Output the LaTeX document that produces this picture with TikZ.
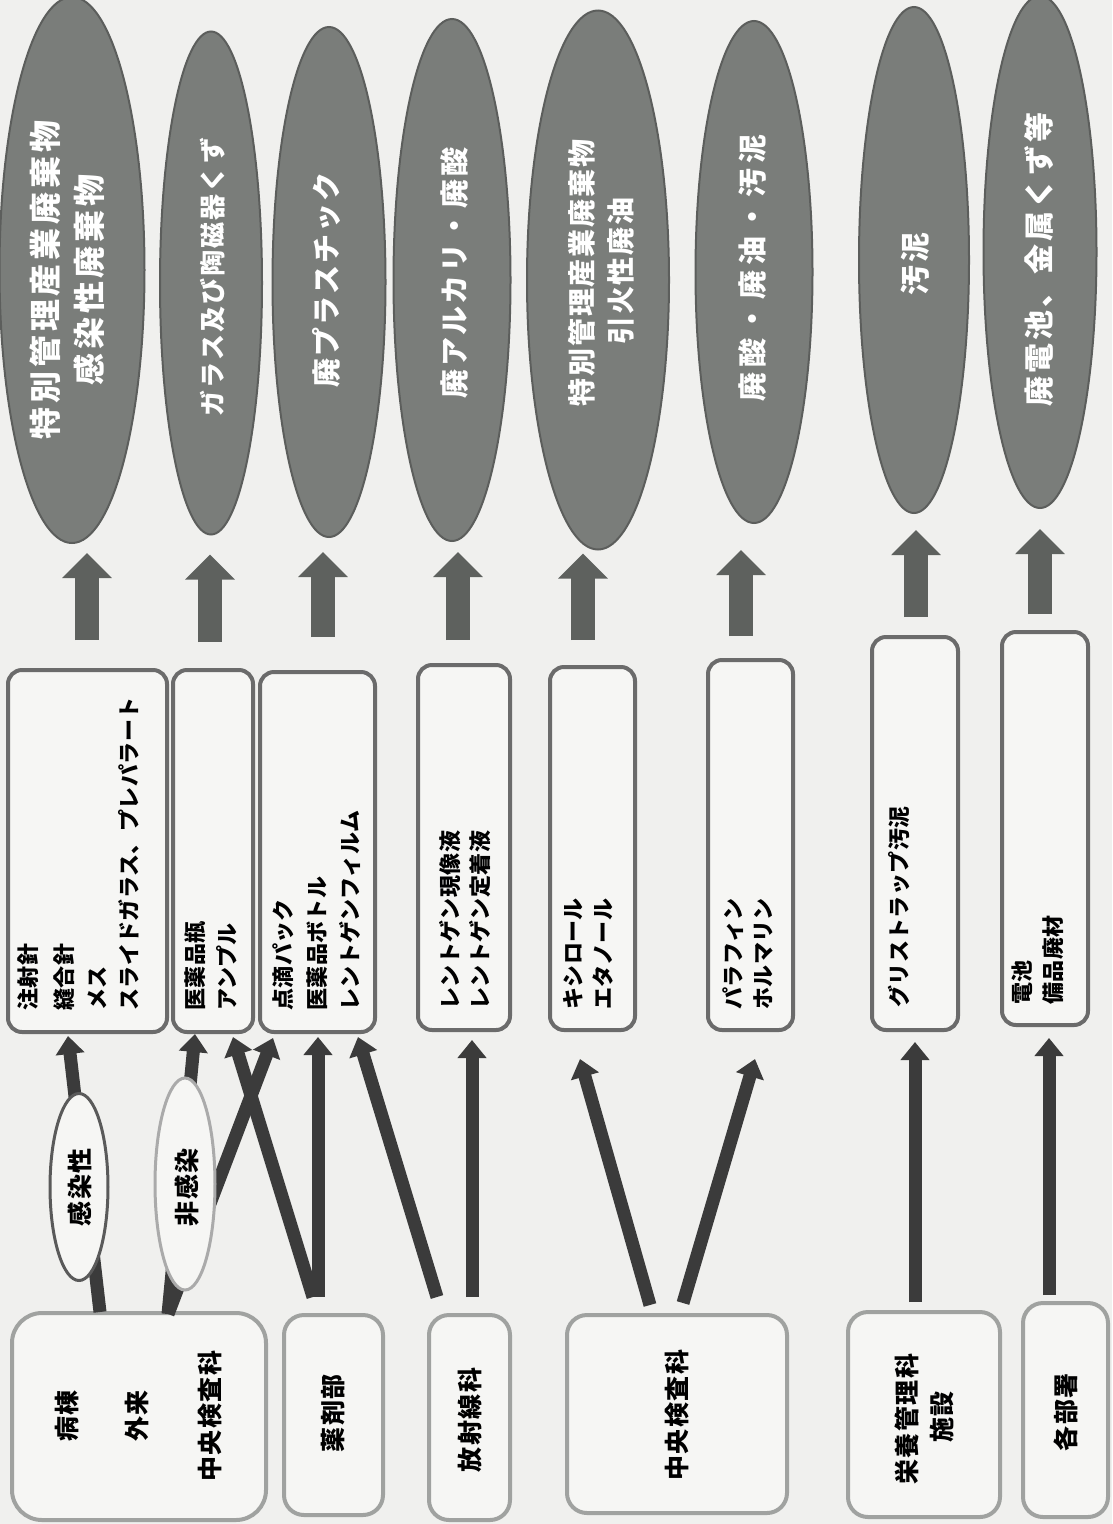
\documentclass[tikz,border=0pt]{standalone}
\usepackage{fontspec}
\newfontfamily\jp{Noto Sans CJK JP}
\usetikzlibrary{shapes.geometric,arrows.meta,calc}
\definecolor{paper}{HTML}{F0F0EE}
\definecolor{boxfill}{HTML}{F6F6F4}
\definecolor{ellf}{HTML}{7A7D7A}
\definecolor{ellb}{HTML}{5C5E5C}
\definecolor{fatc}{HTML}{5E615E}
\definecolor{connc}{HTML}{3B3B3B}
\definecolor{mboxc}{HTML}{6B6B6B}
\definecolor{bboxc}{HTML}{A0A2A0}
\definecolor{lblb}{HTML}{5A5A5A}
\definecolor{lblg}{HTML}{AAAAAA}
\newcommand\jf[2]{\jp\bfseries\fontsize{#1}{#1}\selectfont\addfontfeature{LetterSpace=#2}}
\begin{document}
\begin{tikzpicture}[x=1pt,y=-1pt,
  mbox/.style={draw=mboxc, line width=4pt, fill=boxfill, rounded corners=14pt, inner sep=0pt, outer sep=0pt},
  bbox/.style={draw=bboxc, line width=4pt, fill=boxfill, rounded corners=20pt, inner sep=0pt, outer sep=0pt},
  ell/.style={ellipse, draw=ellb, line width=2pt, fill=ellf, inner sep=0pt, outer sep=0pt},
  lbl/.style={ellipse, line width=3pt, fill=boxfill, inner sep=0pt, outer sep=0pt},
  fat/.style={draw=fatc, line width=24pt, -{Triangle[width=48pt,length=25pt]}},
  conn/.style={draw=connc, line width=13pt, -{Triangle[width=28pt,length=18pt]}},
  btxt/.style={anchor=base west, rotate=90, inner sep=0pt, font=\jf{22}{2}},
  ctxt/.style={anchor=base, rotate=90, inner sep=0pt, font=\jf{25}{6}},
  etxt/.style={anchor=base, rotate=90, inner sep=0pt, text=white}]
\useasboundingbox (0,0) rectangle (1112,1524);
\clip (0,0) rectangle (1112,1524);
\fill[paper] (0,0) rectangle (1112,1524);

% top ellipses
\node[ell, minimum width=145pt, minimum height=546pt] (e1) at (72,270) {};
\node[ell, minimum width=102pt, minimum height=503pt] (e2) at (211,283) {};
\node[ell, minimum width=113pt, minimum height=510pt] (e3) at (329,282) {};
\node[ell, minimum width=117pt, minimum height=522pt] (e4) at (452,280) {};
\node[ell, minimum width=142pt, minimum height=539pt] (e5) at (598,280) {};
\node[ell, minimum width=117pt, minimum height=502pt] (e6) at (754,272) {};
\node[ell, minimum width=110pt, minimum height=506pt] (e7) at (914,260) {};
\node[ell, minimum width=113pt, minimum height=512pt] (e8) at (1040,252) {};

\node[etxt, font=\jf{32}{12}] (e1a) at (57,280) {特別管理産業廃棄物};
\node[etxt, font=\jf{32}{12}] (e1b) at (101,280) {感染性廃棄物};
\node[etxt, font=\jf{26}{8}] (e2a) at (222,277) {ガラス及び陶磁器くず};
\node[etxt, font=\jf{29}{7}] (e3a) at (337,280) {廃プラスチック};
\node[etxt, font=\jf{29}{10}] (e4a) at (465,273) {廃アルカリ・廃酸};
\node[etxt, font=\jf{28}{7}] (e5a) at (592,273) {特別管理産業廃棄物};
\node[etxt, font=\jf{28}{7}] (e5b) at (631,271) {引火性廃油};
\node[etxt, font=\jf{29}{17}] (e6a) at (763,268) {廃酸・廃油・汚泥};
\node[etxt, font=\jf{30}{7}] (e7a) at (926,264) {汚泥};
\node[etxt, font=\jf{30}{10}] (e8a) at (1050,259) {廃電池、金属くず等};

% middle boxes
\node[mbox, minimum width=159pt, minimum height=362pt] (m1) at (87.5,851) {};
\node[mbox, minimum width=80pt, minimum height=362pt] (m2) at (213,851) {};
\node[mbox, minimum width=115pt, minimum height=360pt] (m3) at (317.5,852) {};
\node[mbox, minimum width=92pt, minimum height=365pt] (m4) at (464,847.5) {};
\node[mbox, minimum width=85pt, minimum height=363pt] (m5) at (592.5,848.5) {};
\node[mbox, minimum width=85pt, minimum height=370pt] (m6) at (750.5,845) {};
\node[mbox, minimum width=86pt, minimum height=393pt] (m7) at (915,833.5) {};
\node[mbox, minimum width=86pt, minimum height=393pt] (m8) at (1045,828.5) {};

\node[btxt] (m1a) at (36,1011) {注射針};
\node[btxt] (m1b) at (72,1011) {縫合針};
\node[btxt] (m1c) at (105,1011) {メス};
\node[btxt] (m1d) at (137,1011) {スライドガラス、プレパラート};
\node[btxt] (m2a) at (203,1011) {医薬品瓶};
\node[btxt] (m2b) at (235,1011) {アンプル};
\node[btxt] (m3a) at (291,1011) {点滴パック};
\node[btxt] (m3b) at (325,1011) {医薬品ボトル};
\node[btxt] (m3c) at (358,1011) {レントゲンフィルム};
\node[btxt] (m4a) at (458,1010) {レントゲン現像液};
\node[btxt] (m4b) at (488,1010) {レントゲン定着液};
\node[btxt] (m5a) at (581,1010) {キシロール};
\node[btxt] (m5b) at (611,1010) {エタノール};
\node[btxt] (m6a) at (741,1010) {パラフィン};
\node[btxt] (m6b) at (771,1010) {ホルマリン};
\node[btxt] (m7a) at (907,1008) {グリストラップ汚泥};
\node[btxt] (m8a) at (1030,1005) {電池};
\node[btxt] (m8b) at (1061,1005) {備品廃材};

% fat arrows box -> ellipse
\coordinate (a1) at ([xshift=-0.5pt,yshift=30pt]m1.north);
\coordinate (a2) at ([xshift=-3pt,yshift=28pt]m2.north);
\coordinate (a3) at ([xshift=5.5pt,yshift=35pt]m3.north);
\coordinate (a4) at ([xshift=-6pt,yshift=25pt]m4.north);
\coordinate (a5) at ([xshift=-9.5pt,yshift=27pt]m5.north);
\coordinate (a6) at ([xshift=-9.5pt,yshift=24pt]m6.north);
\coordinate (a7) at ([xshift=1pt,yshift=20pt]m7.north);
\coordinate (a8) at ([xshift=-5pt,yshift=18pt]m8.north);
\draw[fat, shorten >=10pt] (a1) -- (a1 |- e1.south);
\draw[fat, shorten >=20pt] (a2) -- (a2 |- e2.south);
\draw[fat, shorten >=15pt] (a3) -- (a3 |- e3.south);
\draw[fat, shorten >=11pt] (a4) -- (a4 |- e4.south);
\draw[fat, shorten >=4pt] (a5) -- (a5 |- e5.south);
\draw[fat, shorten >=27pt] (a6) -- (a6 |- e6.south);
\draw[fat, shorten >=17pt] (a7) -- (a7 |- e7.south);
\draw[fat, shorten >=21pt] (a8) -- (a8 |- e8.south);

% bottom boxes
\node[bbox, rounded corners=30pt, minimum width=254pt, minimum height=207pt] (b1) at (139,1416.5) {};
\node[bbox, minimum width=99pt, minimum height=200pt] (b2) at (333.5,1415) {};
\node[bbox, minimum width=81pt, minimum height=205pt] (b3) at (469.5,1417.5) {};
\node[bbox, minimum width=220pt, minimum height=198pt] (b4) at (677,1414) {};
\node[bbox, minimum width=152pt, minimum height=205pt] (b5) at (924,1414.5) {};
\node[bbox, minimum width=85pt, minimum height=214pt] (b6) at (1065.5,1410) {};

\node[ctxt] (b1a) at (76,1416) {病棟};
\node[ctxt] (b1b) at (146,1416) {外来};
\node[ctxt] (b1c) at (219,1416) {中央検査科};
\node[ctxt] (b2a) at (342,1413) {薬剤部};
\node[ctxt] (b3a) at (479,1420) {放射線科};
\node[ctxt] (b4a) at (686,1415) {中央検査科};
\node[ctxt] (b5a) at (916,1419) {栄養管理科};
\node[ctxt] (b5b) at (951,1417) {施設};
\node[ctxt] (b6a) at (1075,1412) {各部署};

% connectors bottom -> middle
\draw[conn] ([xshift=-39pt,yshift=1pt]b1.north) -- ([xshift=-19.5pt,yshift=-4pt]m1.south);
\draw[conn] ([xshift=29pt,yshift=-1pt]b1.north) -- ([xshift=-18pt,yshift=-2pt]m2.south);
\draw[conn] ([xshift=29pt,yshift=-1pt]b1.north) -- ([xshift=-44.5pt,yshift=-6pt]m3.south);
\draw[conn] ([xshift=-20.5pt,yshift=18pt]b2.north) -- ([xshift=20pt,yshift=-5pt]m2.south);
\draw[conn] ([xshift=-15.5pt,yshift=18pt]b2.north) -- ([xshift=0.5pt,yshift=-5pt]m3.south);
\draw[conn] ([xshift=-32.5pt,yshift=18pt]b3.north) -- ([xshift=40.5pt,yshift=-5pt]m3.south);
\draw[conn] ([xshift=2.5pt,yshift=18pt]b3.north) -- ([xshift=8pt,yshift=-10pt]m4.south);
\draw[conn] ([xshift=-27pt,yshift=10pt]b4.north) -- ([xshift=-12.5pt,yshift=-29pt]m5.south);
\draw[conn] ([xshift=6pt,yshift=12pt]b4.north) -- ([xshift=4.5pt,yshift=-29pt]m6.south);
\draw[conn] ([xshift=-9pt,yshift=10pt]b5.north) -- ([xshift=0pt,yshift=-12pt]m7.south);
\draw[conn] ([xshift=-16.5pt,yshift=8pt]b6.north) -- ([xshift=4pt,yshift=-13pt]m8.south);

% labels on connectors
\node[lbl, draw=lblb, minimum width=58pt, minimum height=187pt] (l1) at (79,1187) {};
\node[lbl, draw=lblg, minimum width=60pt, minimum height=212pt] (l2) at (185,1184) {};
\node[ctxt] (l1a) at (89,1187) {感染性};
\node[ctxt] (l2a) at (196,1187) {非感染};
\end{tikzpicture}
\end{document}
